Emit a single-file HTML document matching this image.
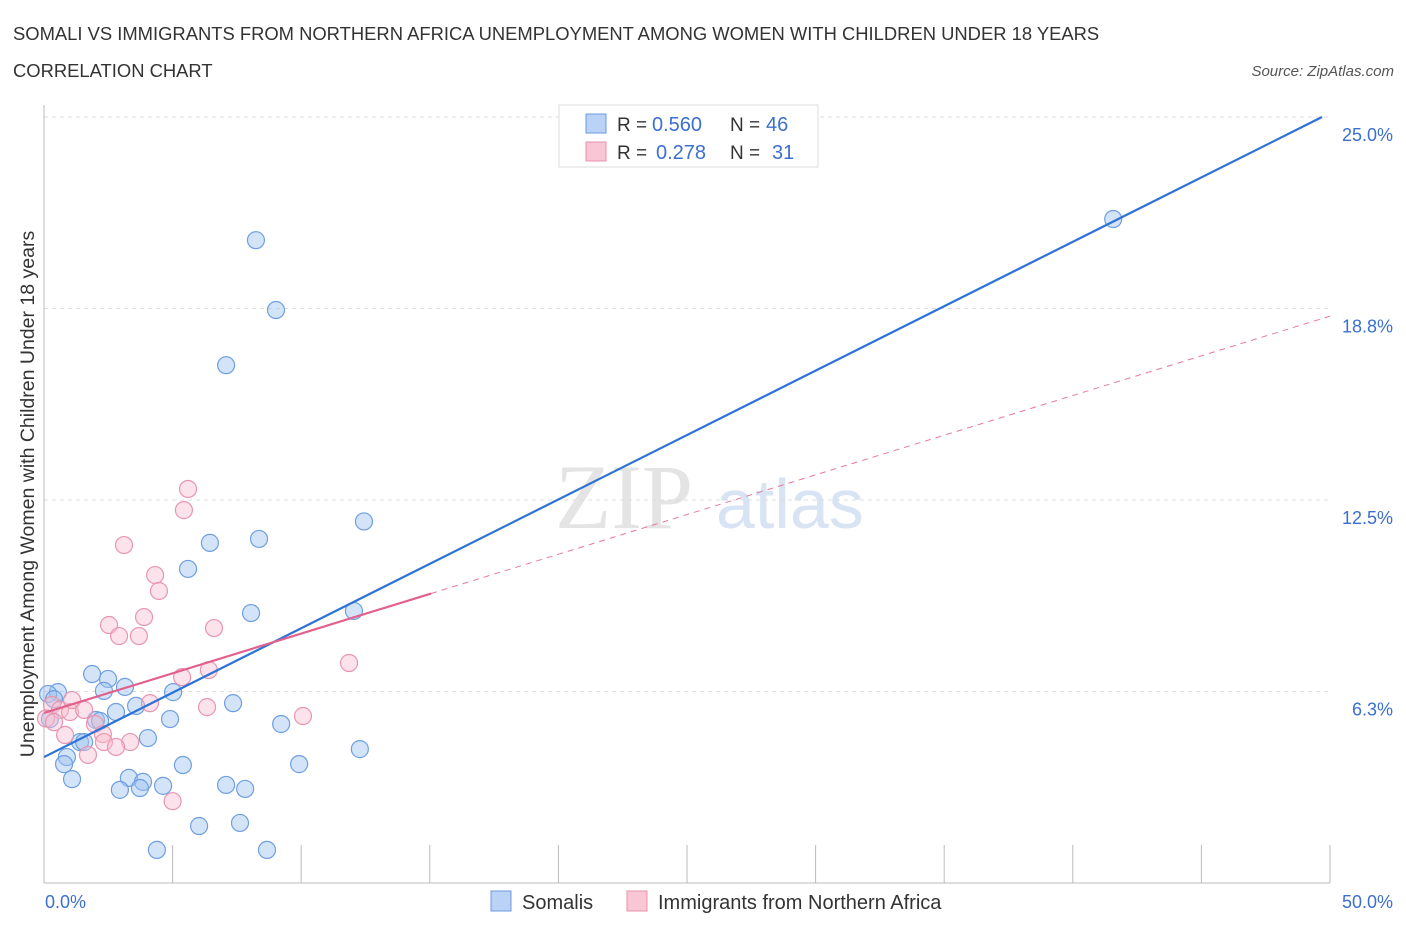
<!DOCTYPE html>
<html><head><meta charset="utf-8"><style>
body{margin:0;background:#fff;font-family:"Liberation Sans",sans-serif;}
</style></head><body>
<svg width="1406" height="930" xmlns="http://www.w3.org/2000/svg" font-family="Liberation Sans, sans-serif">
<text x="13" y="40" font-size="18.4" fill="#333">SOMALI VS IMMIGRANTS FROM NORTHERN AFRICA UNEMPLOYMENT AMONG WOMEN WITH CHILDREN UNDER 18 YEARS</text>
<text x="13" y="77" font-size="18.4" fill="#333">CORRELATION CHART</text>
<text x="1394" y="76" font-size="15" fill="#555" text-anchor="end" font-style="italic">Source: ZipAtlas.com</text>
<text x="555" y="528" font-size="92" fill="#e4e4e4" font-family="Liberation Serif, serif">ZIP</text>
<text x="716" y="528" font-size="70" fill="#d8e4f3">atlas</text>
<g id="grid"></g><g id="pts"></g><g id="lines"></g>
<text transform="translate(34,494) rotate(-90)" font-size="19.5" fill="#333" text-anchor="middle">Unemployment Among Women with Children Under 18 years</text>
<text x="45" y="908" font-size="18" fill="#3b6fd0">0.0%</text>
<text x="1393" y="908" font-size="18" fill="#3b6fd0" text-anchor="end">50.0%</text>
<g>
<rect x="559" y="105" width="259" height="62" fill="#fff" stroke="#ddd"/>
<rect x="586" y="114" width="20" height="19" fill="#b9d2f5" stroke="#6c9be0"/>
<rect x="586" y="142" width="20" height="19" fill="#f9c6d6" stroke="#e890ab"/>
<text x="617" y="131" font-size="19" fill="#333">R =</text>
<text x="652" y="131" font-size="20" fill="#3b6fd0">0.560</text>
<text x="730" y="131" font-size="19" fill="#333">N =</text>
<text x="766" y="131" font-size="20" fill="#3b6fd0">46</text>
<text x="617" y="159" font-size="19" fill="#333">R =</text>
<text x="656" y="159" font-size="20" fill="#3b6fd0">0.278</text>
<text x="730" y="159" font-size="19" fill="#333">N =</text>
<text x="772" y="159" font-size="20" fill="#3b6fd0">31</text>
</g>
<g>
<rect x="491" y="891" width="20" height="20" fill="#b9d2f5" stroke="#6c9be0"/>
<text x="522" y="909" font-size="20" fill="#333">Somalis</text>
<rect x="627" y="891" width="20" height="20" fill="#f9c6d6" stroke="#e890ab"/>
<text x="658" y="909" font-size="20" fill="#333">Immigrants from Northern Africa</text>
</g>
</svg>
<script>
const yTicks=[6.25,12.5,18.75,25];
const yTickLabels=["6.3%","12.5%","18.8%","25.0%"];
const xTicks=[5,10,15,20,25,30,35,40,45,50];
const somaliX=[8.24,9.02,7.08,41.57,12.44,6.45,8.36,5.6,8.05,12.05,1.87,2.49,3.15,2.33,0.54,0.16,5.02,7.35,3.58,2.8,4.9,2.02,2.18,9.22,4.04,1.4,1.56,0.89,0.78,5.4,9.92,12.28,1.09,3.3,3.85,3.73,2.95,4.63,7.08,7.82,7.62,6.03,4.39,8.67,0.39,0.23];
const somaliY=[20.98,18.7,16.9,21.67,11.8,11.1,11.23,10.25,8.81,8.88,6.82,6.66,6.4,6.27,6.23,6.17,6.23,5.87,5.78,5.58,5.35,5.32,5.29,5.19,4.73,4.6,4.6,4.11,3.88,3.85,3.88,4.37,3.39,3.43,3.3,3.1,3.04,3.17,3.2,3.07,1.96,1.86,1.08,1.08,6.0,5.35];
const nafX=[5.6,5.44,3.11,4.32,4.47,2.53,2.92,3.69,3.89,6.61,6.41,5.37,11.86,0.31,0.62,1.01,0.08,0.39,1.09,1.56,4.12,1.98,2.29,2.33,0.82,1.71,3.35,2.8,6.34,10.07,5.0];
const nafY=[12.86,12.17,11.03,10.05,9.53,8.42,8.06,8.06,8.68,8.32,6.95,6.72,7.18,5.81,5.65,5.58,5.37,5.25,5.97,5.65,5.87,5.19,4.86,4.6,4.83,4.18,4.6,4.44,5.74,5.45,2.67];
const blueLine={x0:0,y0:4.11,x1:49.69,y1:25};
const pinkLine={x0:0,y0:5.55,x1:50,y1:18.5,solidEnd:15.05};
const X=v=>44+v*25.72, Y=v=>883-v*30.64;
const NS="http://www.w3.org/2000/svg";
function mk(t,a,p){const e=document.createElementNS(NS,t);for(const k in a)e.setAttribute(k,a[k]);p.appendChild(e);return e;}
const grid=document.getElementById('grid'),pts=document.getElementById('pts'),lines=document.getElementById('lines');
yTicks.forEach((t,i)=>{const l=mk('line',{x1:44,x2:1330,y1:Y(t),y2:Y(t),stroke:'#ddd','stroke-dasharray':'4,4'},grid);


const tx=mk('text',{x:1393,y:Y(t)+24,'font-size':18,fill:'#3b6fd0','text-anchor':'end'},grid);tx.textContent=yTickLabels[i];

});
const ax=mk('line',{x1:44,x2:44,y1:105,y2:883,stroke:'#bbb'},grid);


const bx=mk('line',{x1:44,x2:1330,y1:883,y2:883,stroke:'#bbb'},grid);


xTicks.forEach(t=>{const l=mk('line',{x1:X(t),x2:X(t),y1:845,y2:883,stroke:'#bbb'},grid);

});
somaliX.forEach((x,i)=>{const c=mk('circle',{cx:X(x),cy:Y(somaliY[i]),r:8.5,fill:'rgba(160,195,240,0.45)',stroke:'#6f9fe0','stroke-width':1.2},pts);

});
nafX.forEach((x,i)=>{const c=mk('circle',{cx:X(x),cy:Y(nafY[i]),r:8.5,fill:'rgba(248,190,208,0.45)',stroke:'#e896b0','stroke-width':1.2},pts);

});
const py=x=>pinkLine.y0+(pinkLine.y1-pinkLine.y0)*x/pinkLine.x1;
const pd=mk('line',{x1:X(pinkLine.solidEnd),y1:Y(py(pinkLine.solidEnd)),x2:X(pinkLine.x1),y2:Y(pinkLine.y1),stroke:'#e8799c','stroke-width':1,'stroke-dasharray':'6,5'},lines);


const bl=mk('line',{x1:X(blueLine.x0),y1:Y(blueLine.y0),x2:X(blueLine.x1),y2:Y(blueLine.y1),stroke:'#2d73d6','stroke-width':2.2},lines);


const pl=mk('line',{x1:X(pinkLine.x0),y1:Y(pinkLine.y0),x2:X(pinkLine.solidEnd),y2:Y(py(pinkLine.solidEnd)),stroke:'#e4608c','stroke-width':2.2},lines);


</script>
</body></html>
